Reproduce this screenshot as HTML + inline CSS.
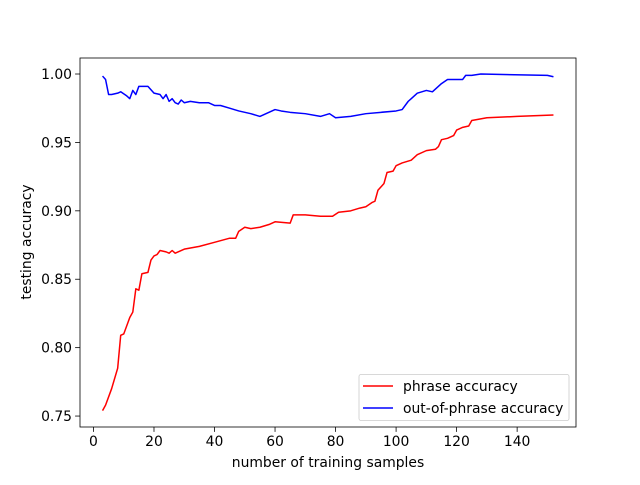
<!DOCTYPE html>
<html><head><meta charset="utf-8"><style>
body{margin:0;background:#fff}
svg text{font-family:"DejaVu Sans","Liberation Sans",sans-serif;fill:#000}
</style></head><body>
<svg id="c" width="640" height="480"></svg>
<script>
const phraseX=[3,4,6,8,9,10,12,13,14,15,16,18,19,20,21,22,24,25,26,27,30,35,40,45,47,48,50,52,55,58,60,65,66,70,75,79,81,85,88,90,92,93,94,96,97,99,100,102,105,107,110,113,114,115,117,119,120,122,124,125,130,140,152];
const phraseY=[0.754,0.758,0.770,0.785,0.809,0.810,0.822,0.826,0.843,0.842,0.854,0.855,0.864,0.867,0.868,0.871,0.870,0.869,0.871,0.869,0.872,0.874,0.877,0.880,0.880,0.885,0.888,0.887,0.888,0.890,0.892,0.891,0.897,0.897,0.896,0.896,0.899,0.900,0.902,0.903,0.906,0.907,0.915,0.920,0.928,0.929,0.933,0.935,0.937,0.941,0.944,0.945,0.947,0.952,0.953,0.955,0.959,0.961,0.962,0.966,0.968,0.969,0.970];
const outX=[3,4,5,6,8,9,11,12,13,14,15,18,20,22,23,24,25,26,27,28,29,30,32,35,38,40,42,45,48,52,55,57,60,62,65,70,75,78,80,85,90,95,100,102,104,105,107,110,112,115,117,122,123,125,128,150,152];
const outY=[0.9985,0.996,0.985,0.985,0.986,0.987,0.984,0.982,0.988,0.985,0.991,0.991,0.986,0.985,0.982,0.985,0.980,0.982,0.979,0.978,0.981,0.979,0.980,0.979,0.979,0.977,0.977,0.975,0.973,0.971,0.969,0.971,0.974,0.973,0.972,0.971,0.969,0.971,0.968,0.969,0.971,0.972,0.973,0.974,0.980,0.982,0.986,0.988,0.987,0.993,0.996,0.996,0.999,0.999,1.0,0.999,0.998];
const xTicks=[0,20,40,60,80,100,120,140];
const yTicks=[0.75,0.80,0.85,0.90,0.95,1.00];
const yTickLabels=["0.75","0.80","0.85","0.90","0.95","1.00"];
const L=80,R=576,T=58,B=427;
const xmin=-4.45,xmax=159.45,ymin=0.742,ymax=1.0117;
const sx=v=>L+(v-xmin)/(xmax-xmin)*(R-L);
const sy=v=>B-(v-ymin)/(ymax-ymin)*(B-T);
const svg=document.getElementById('c');
const NS='http://www.w3.org/2000/svg';
function mk(tag,attrs,parent){const e=document.createElementNS(NS,tag);for(const k in attrs)e.setAttribute(k,attrs[k]);(parent||svg).appendChild(e);return e;}
function line(xs,ys,color,name){
  const p=mk('polyline',{points:xs.map((x,i)=>sx(x)+','+sy(ys[i])).join(' '),fill:'none',stroke:color,'stroke-width':1.5,'stroke-linejoin':'round'});
  
  
}
line(phraseX,phraseY,'#ff0000','phrase-accuracy-line');
line(outX,outY,'#0000ff','out-of-phrase-accuracy-line');
const frame=mk('rect',{x:L,y:T,width:R-L,height:B-T,fill:'none',stroke:'#000','stroke-width':0.8});


xTicks.forEach(v=>{
  const x=sx(v);
  mk('line',{x1:x,x2:x,y1:B,y2:B+4.9,stroke:'#000','stroke-width':0.8});
  const t=mk('text',{x:x,y:B+19,'font-size':13.9,'text-anchor':'middle'});t.textContent=v;
  
  
});
yTicks.forEach((v,i)=>{
  const y=sy(v);
  mk('line',{x1:L-4.9,x2:L,y1:y,y2:y,stroke:'#000','stroke-width':0.8});
  const t=mk('text',{x:L-8,y:y+5,'font-size':13.9,'text-anchor':'end'});t.textContent=yTickLabels[i];
  
  
});
</script>
<svg width="640" height="480" style="position:absolute;left:0;top:0">
<text x="328" y="467" font-size="13.9" text-anchor="middle">number of training samples</text>
<text transform="translate(31,242) rotate(-90)" font-size="13.9" text-anchor="middle">testing accuracy</text>
<g>
<rect x="359" y="374.5" width="210" height="46" rx="2" fill="#fff" fill-opacity="0.8" stroke="#ccc" stroke-width="0.8"/>
<line x1="363" x2="393" y1="386" y2="386" stroke="#ff0000" stroke-width="1.5"/>
<text x="403" y="391" font-size="13.9">phrase accuracy</text>
<line x1="363" x2="393" y1="408" y2="408" stroke="#0000ff" stroke-width="1.5"/>
<text x="403" y="413" font-size="13.9">out-of-phrase accuracy</text>
</g>
</svg>
</body></html>
